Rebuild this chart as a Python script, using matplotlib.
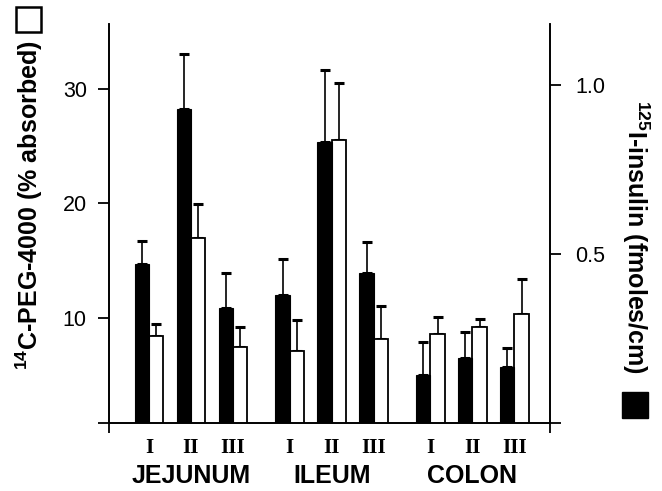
import matplotlib
matplotlib.use('Agg')
import matplotlib.pyplot as plt
import matplotlib.transforms as mtransforms
from matplotlib.patches import Rectangle
from matplotlib.ticker import FixedLocator

# 데이터
regions = ['JEJUNUM', 'ILEUM', 'COLON']
segments = ['I', 'II', 'III']
# 125I-insulin (fmoles/cm), 검은 막대
insulin_mean = [0.47, 0.93, 0.34, 0.38, 0.83, 0.445, 0.142, 0.191, 0.165]
insulin_err = [0.069, 0.16, 0.103, 0.104, 0.215, 0.091, 0.099, 0.079, 0.056]
# 14C-PEG-4000 (% absorbed), 흰 막대
peg_mean = [8.4, 17.0, 7.46, 7.08, 25.56, 8.13, 8.55, 9.21, 10.32]
peg_err = [1.02, 2.93, 1.73, 2.69, 5.02, 2.89, 1.54, 0.67, 3.07]

plt.rcParams['font.family'] = ['Liberation Sans', 'DejaVu Sans']
plt.rcParams['mathtext.fontset'] = 'custom'
plt.rcParams['mathtext.rm'] = 'Liberation Sans:bold'
plt.rcParams['mathtext.bf'] = 'Liberation Sans:bold'

W, H = 662, 491
fig = plt.figure(figsize=(W / 100, H / 100), dpi=100)
ax = fig.add_axes([109 / W, (H - 423) / H, (550 - 109) / W, (423 - 24) / H])
ax2 = ax.twinx()

# 막대 위치
gap = 3.35
w = 0.34
xs = [g * gap + i for g in range(len(regions)) for i in range(len(segments))]
labels = [s for _ in regions for s in segments]

ekw = dict(fmt='none', ecolor='black', elinewidth=1.2, capsize=3.5, capthick=2.2)

ax.bar([x + w / 2 for x in xs], peg_mean, width=w, color='white',
       edgecolor='black', linewidth=1.3, zorder=2)
ax.errorbar([x + w / 2 for x in xs], peg_mean,
            yerr=[[0] * len(peg_err), peg_err], zorder=1, **ekw)

ax2.bar([x - w / 2 for x in xs], insulin_mean, width=w, color='black',
        edgecolor='black', linewidth=0.8, zorder=2)
ax2.errorbar([x - w / 2 for x in xs], insulin_mean,
             yerr=[[0] * len(insulin_err), insulin_err], zorder=1, **ekw)

ax.set_xlim(-0.952, 9.548)
ax.set_ylim(0.78, 35.7)
ax2.set_ylim(0, 1.18)

for a in (ax, ax2):
    a.spines['top'].set_visible(False)
    for s in a.spines.values():
        s.set_linewidth(1.2)

ax.set_yticks([10, 20, 30])
ax.tick_params(axis='y', direction='out', length=8, width=1.3,
               labelsize=15.5, pad=8)
ax.yaxis.set_minor_locator(FixedLocator([0.78]))
ax.tick_params(axis='y', which='minor', length=8, width=1.3)

ax2.set_yticks([0.5, 1.0])
ax2.set_yticklabels(['0.5', '1.0'])
ax2.tick_params(axis='y', direction='out', length=8, width=1.3,
                labelsize=15.5, pad=10)
ax2.yaxis.set_minor_locator(FixedLocator([0]))
ax2.tick_params(axis='y', which='minor', length=8, width=1.3)

ax.set_xticks(xs)
ax.set_xticklabels(labels, fontfamily='Liberation Serif', fontweight='bold',
                   fontsize=15)
ax.tick_params(axis='x', length=0, pad=11)
ax.xaxis.set_minor_locator(FixedLocator([-0.952, xs[4], 9.548]))
ax.tick_params(axis='x', which='minor', length=7, width=1.3)

trans = mtransforms.blended_transform_factory(ax.transData, ax.transAxes)
for g, name in enumerate(regions):
    ax.text(g * gap + 1, -0.132, name, transform=trans, ha='center', va='center',
            fontsize=18, fontweight='bold')

# 축 제목
fig.text(29 / W, 1 - 205 / H, r'$^{14}$C-PEG-4000 (% absorbed)', rotation=90,
         ha='center', va='center', fontsize=18, fontweight='bold')
fig.text(636 / W, 1 - 237 / H, r'$^{125}$I-insulin (fmoles/cm)', rotation=-90,
         ha='center', va='center', fontsize=18, fontweight='bold')
fig.patches.append(Rectangle((16 / W, 1 - 32 / H), 25 / W, 25 / H, transform=fig.transFigure,
                             facecolor='white', edgecolor='black', linewidth=1.8))
fig.patches.append(Rectangle((622 / W, 1 - 418 / H), 26 / W, 26 / H, transform=fig.transFigure,
                             facecolor='black', edgecolor='black', linewidth=1))

fig.savefig('out.png', dpi=100)
